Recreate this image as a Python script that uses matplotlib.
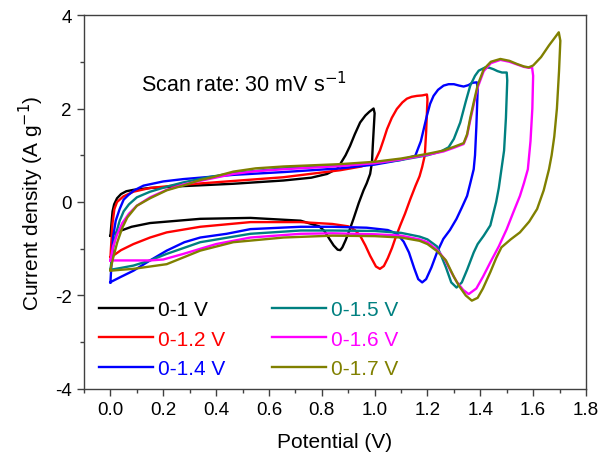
import numpy as np
import matplotlib
matplotlib.use("Agg")
import matplotlib.pyplot as plt
from matplotlib.ticker import MultipleLocator

plt.rcParams['font.family'] = ['Liberation Sans', 'DejaVu Sans']
plt.rcParams['axes.unicode_minus'] = False

# CV loops: potential (V), current density (A/g)
# each loop = anodic sweep 0 -> Vmax, then cathodic sweep back to 0
v_10 = [0.0, 0.004, 0.008, 0.014, 0.025, 0.04, 0.06, 0.087, 0.15, 0.276, 0.465, 0.655, 0.76, 0.82,
        0.86, 0.89, 0.907, 0.925, 0.945, 0.965, 0.98, 0.996,
        1.0, 0.993, 0.99, 0.983, 0.97, 0.958, 0.94, 0.92, 0.905, 0.89, 0.878, 0.87, 0.86, 0.845,
        0.83, 0.81, 0.79, 0.72, 0.53, 0.34, 0.15, 0.08, 0.036, 0.012, 0.0]
i_10 = [-0.72, -0.45, -0.2, -0.05, 0.08, 0.17, 0.23, 0.26, 0.3, 0.34, 0.39, 0.46, 0.52, 0.6,
        0.72, 1.0, 1.2, 1.45, 1.7, 1.85, 1.93, 2.0,
        1.9, 1.2, 0.85, 0.6, 0.4, 0.25, -0.02, -0.36, -0.6, -0.82, -0.97, -1.03, -1.02, -0.93,
        -0.8, -0.62, -0.52, -0.40, -0.34, -0.36, -0.45, -0.53, -0.62, -0.68, -0.72]

v_12 = [0.0, 0.004, 0.008, 0.015, 0.025, 0.049, 0.087, 0.15, 0.276, 0.465, 0.655, 0.87, 0.95, 1.0,
        1.02, 1.035, 1.047, 1.065, 1.084, 1.105, 1.122, 1.14, 1.16, 1.18, 1.198,
        1.2, 1.195, 1.19, 1.18, 1.17, 1.155, 1.135, 1.115, 1.097, 1.08, 1.066, 1.05, 1.035, 1.02,
        1.005, 0.983, 0.965, 0.945, 0.925, 0.9, 0.84, 0.72, 0.53, 0.34, 0.213, 0.15, 0.087, 0.04,
        0.01, 0.0]
i_12 = [-1.18, -0.8, -0.45, -0.15, 0.0, 0.12, 0.22, 0.3, 0.37, 0.45, 0.53, 0.68, 0.76, 0.86,
        1.1, 1.35, 1.56, 1.8, 1.99, 2.13, 2.21, 2.25, 2.27, 2.28, 2.30,
        2.2, 1.5, 1.0, 0.75, 0.55, 0.35, 0.06, -0.25, -0.5, -0.75, -0.98, -1.2, -1.37, -1.43,
        -1.38, -1.15, -0.93, -0.72, -0.6, -0.52, -0.47, -0.43, -0.43, -0.53, -0.65, -0.76, -0.9, -1.03,
        -1.15, -1.18]

v_14 = [0.0, 0.005, 0.01, 0.02, 0.035, 0.05, 0.068, 0.09, 0.125, 0.2, 0.276, 0.465, 0.655, 0.87,
        1.0, 1.1, 1.154, 1.175, 1.198, 1.21, 1.223, 1.24, 1.261, 1.28, 1.3, 1.32, 1.337, 1.355,
        1.37, 1.387,
        1.39, 1.385, 1.38, 1.375, 1.362, 1.35, 1.33, 1.31, 1.285, 1.26, 1.236, 1.215, 1.195, 1.18,
        1.165, 1.15, 1.13, 1.11, 1.085, 1.05, 0.97, 0.84, 0.72, 0.53, 0.44, 0.34, 0.28, 0.213,
        0.15, 0.087, 0.04, 0.005, 0.0]
i_14 = [-1.72, -1.2, -0.75, -0.4, -0.15, 0.05, 0.15, 0.25, 0.35, 0.44, 0.49, 0.58, 0.64, 0.72,
        0.8, 0.9, 0.99, 1.3, 1.85, 2.1, 2.27, 2.4, 2.49, 2.52, 2.52, 2.49, 2.47, 2.5,
        2.55, 2.56,
        2.4, 1.6, 1.0, 0.7, 0.4, 0.13, -0.12, -0.36, -0.6, -0.79, -1.08, -1.4, -1.65, -1.72,
        -1.65, -1.42, -1.08, -0.85, -0.68, -0.6, -0.55, -0.53, -0.53, -0.58, -0.68, -0.76, -0.86, -1.04,
        -1.25, -1.47, -1.6, -1.7, -1.72]

v_15 = [0.0, 0.01, 0.02, 0.035, 0.05, 0.07, 0.1, 0.15, 0.215, 0.276, 0.37, 0.465, 0.655, 0.87,
        1.0, 1.1, 1.2, 1.25, 1.28, 1.3, 1.324, 1.345, 1.362, 1.38, 1.394, 1.419, 1.435, 1.45,
        1.465, 1.482, 1.5,
        1.502, 1.497, 1.49, 1.48, 1.47, 1.46, 1.438, 1.413, 1.39, 1.375, 1.35, 1.33, 1.31, 1.29,
        1.27, 1.25, 1.236, 1.2, 1.17, 1.1, 1.0, 0.84, 0.72, 0.53, 0.34, 0.213, 0.15, 0.087, 0.04, 0.0]
i_15 = [-1.45, -1.0, -0.7, -0.4, -0.2, -0.05, 0.1, 0.22, 0.33, 0.42, 0.53, 0.62, 0.72, 0.78,
        0.83, 0.9, 1.0, 1.08, 1.17, 1.35, 1.7, 2.15, 2.49, 2.7, 2.81, 2.88, 2.87, 2.84,
        2.8, 2.77, 2.77,
        2.6, 1.8, 1.1, 0.7, 0.3, 0.0, -0.5, -0.72, -0.9, -1.08, -1.45, -1.72, -1.83, -1.72,
        -1.4, -1.12, -0.95, -0.8, -0.74, -0.66, -0.62, -0.61, -0.61, -0.68, -0.86, -1.11, -1.25, -1.36,
        -1.41, -1.45]

v_16 = [0.0, 0.01, 0.025, 0.045, 0.07, 0.1, 0.15, 0.213, 0.28, 0.38, 0.465, 0.55, 0.655, 0.87,
        1.0, 1.1, 1.2, 1.26, 1.30, 1.337, 1.35, 1.362, 1.375, 1.39, 1.413, 1.44, 1.476, 1.51,
        1.54, 1.565, 1.585, 1.596,
        1.6, 1.597, 1.59, 1.58, 1.565, 1.55, 1.525, 1.50, 1.47, 1.438, 1.41, 1.385, 1.356, 1.335,
        1.31, 1.29, 1.265, 1.236, 1.2, 1.17, 1.1, 1.0, 0.84, 0.72, 0.53, 0.40, 0.276, 0.2, 0.15, 0.0]
i_16 = [-1.25, -0.95, -0.7, -0.45, -0.25, -0.08, 0.1, 0.26, 0.38, 0.5, 0.6, 0.66, 0.7, 0.77,
        0.83, 0.91, 1.01, 1.08, 1.16, 1.24, 1.42, 1.75, 2.08, 2.45, 2.8, 2.97, 3.04, 3.0,
        2.94, 2.89, 2.87, 2.88,
        2.7, 2.0, 1.3, 0.7, 0.4, 0.13, -0.22, -0.58, -0.95, -1.29, -1.6, -1.85, -1.97, -1.88,
        -1.7, -1.5, -1.22, -1.02, -0.86, -0.8, -0.72, -0.69, -0.67, -0.68, -0.76, -0.9, -1.11, -1.23,
        -1.25, -1.25]

v_17 = [0.0, 0.01, 0.026, 0.045, 0.064, 0.1, 0.15, 0.213, 0.28, 0.34, 0.38, 0.465, 0.55, 0.655,
        0.87, 1.0, 1.1, 1.2, 1.26, 1.30, 1.337, 1.35, 1.362, 1.375, 1.39, 1.413, 1.44, 1.476,
        1.51, 1.54, 1.565, 1.583, 1.6, 1.63, 1.66, 1.68, 1.697,
        1.703, 1.698, 1.69, 1.68, 1.67, 1.66, 1.64, 1.615, 1.585, 1.55, 1.515, 1.48, 1.46, 1.438,
        1.41, 1.39, 1.368, 1.345, 1.32, 1.30, 1.27, 1.236, 1.2, 1.17, 1.1, 1.0, 0.84, 0.655, 0.465,
        0.34, 0.213, 0.15, 0.087, 0.04, 0.0]
i_17 = [-1.45, -1.2, -0.86, -0.55, -0.33, -0.08, 0.08, 0.25, 0.36, 0.47, 0.52, 0.65, 0.72, 0.76,
        0.81, 0.86, 0.93, 1.03, 1.1, 1.18, 1.26, 1.45, 1.8, 2.13, 2.5, 2.84, 3.0, 3.06,
        3.02, 2.95, 2.9, 2.88, 2.92, 3.1, 3.35, 3.5, 3.63,
        3.45, 2.8, 2.0, 1.4, 1.0, 0.7, 0.25, -0.15, -0.42, -0.65, -0.8, -0.97, -1.2, -1.5,
        -1.85, -2.05, -2.11, -2.0, -1.8, -1.6, -1.25, -1.05, -0.9, -0.83, -0.76, -0.73, -0.72, -0.76, -0.86,
        -1.04, -1.33, -1.38, -1.43, -1.45, -1.47]

labels = ['0-1 V', '0-1.2 V', '0-1.4 V', '0-1.5 V', '0-1.6 V', '0-1.7 V']
colors = ['#000000', '#ff0000', '#0000ff', '#008080', '#ff00ff', '#808000']
loops = [(v_10, i_10), (v_12, i_12), (v_14, i_14), (v_15, i_15), (v_16, i_16), (v_17, i_17)]

fig = plt.figure(figsize=(6.01, 4.64), dpi=100)
ax = fig.add_axes([0.1398, 0.1595, 0.8352, 0.806])

for (v, i), c, lab in zip(loops, colors, labels):
    ax.plot(v, i, color=c, lw=1.7, label=lab, solid_joinstyle='round')

ax.set_xlim(-0.1, 1.8)
ax.set_ylim(-4, 4)
ax.xaxis.set_minor_locator(MultipleLocator(0.1))
ax.yaxis.set_major_locator(MultipleLocator(2))
ax.yaxis.set_minor_locator(MultipleLocator(1))
ax.set_xticks(np.arange(0, 1.81, 0.2))
ax.set_xticklabels([f'{t:.1f}' for t in np.arange(0, 1.81, 0.2)])
ax.tick_params(which='major', direction='out', length=5, width=1, labelsize=13.5,
               color='#404040', pad=4)
ax.tick_params(which='minor', direction='out', length=3, width=1, color='#404040')
for s in ax.spines.values():
    s.set_color('#404040')
    s.set_linewidth(1)

ax.set_xlabel('Potential (V)', fontsize=15, labelpad=10)
ax.set_ylabel('Current density (A g$^{-1}$)', fontsize=15, labelpad=6)

ax.text(0.116, 2.37, 'Scan rate: 30 mV s$^{-1}$', fontsize=15.5, va='baseline', ha='left')

leg = ax.legend(ncol=2, loc='upper left', bbox_to_anchor=(0.03, 0.237), frameon=False,
                fontsize=15, handlelength=2.6, handletextpad=0.25, columnspacing=2.2,
                labelspacing=0.5, labelcolor='linecolor', borderpad=0, borderaxespad=0)

fig.savefig('out.png', dpi=100)
